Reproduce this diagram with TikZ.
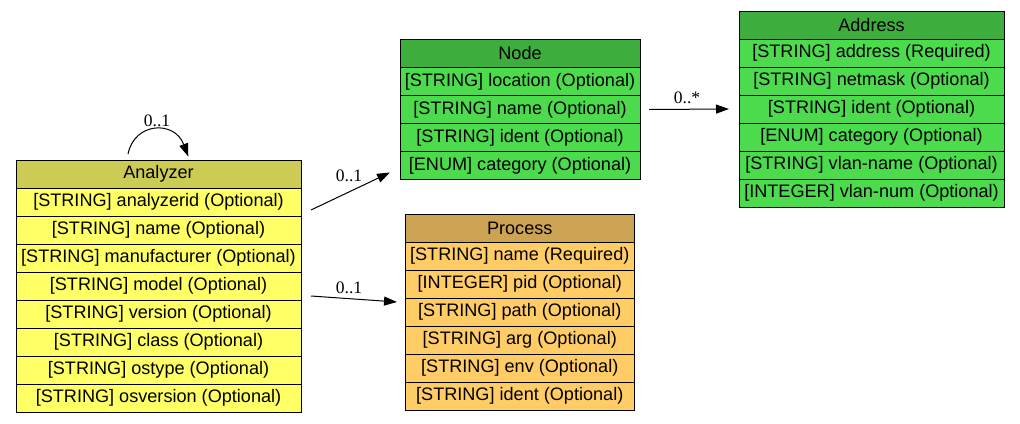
\documentclass[tikz,border=0pt]{standalone}
\usepackage{fontspec}
\setmainfont{Liberation Sans}
\newfontfamily\lblfont{Liberation Serif}
\usetikzlibrary{arrows.meta,calc}
\definecolor{anH}{HTML}{CCCC55}
\definecolor{anR}{HTML}{FFFF66}
\definecolor{gnH}{HTML}{3DAE3D}
\definecolor{gnR}{HTML}{4CDB4C}
\definecolor{prH}{HTML}{CCA352}
\definecolor{prR}{HTML}{FFCC66}
\tikzset{
 cell/.style={draw=black, line width=1pt, minimum height=28pt, inner sep=0pt, outer sep=0pt, anchor=north west, font=\fontsize{18.1}{20}\selectfont, text=black},
 arr/.style={-{Triangle[length=13pt,width=9pt]}, line width=1pt},
 lbl/.style={font=\lblfont\fontsize{17.5}{20}\selectfont, inner sep=0pt}
}
\begin{document}
\begin{tikzpicture}[x=1pt,y=-1pt]
\useasboundingbox (0,0) rectangle (1020,423);
% Analyzer
\begin{scope}[every node/.append style={minimum width=285pt}]
\node[cell, fill=anH] (an0) at (16,160) {Analyzer};
\node[cell, fill=anR] (an1) at (an0.south west) {[STRING] analyzerid (Optional)};
\node[cell, fill=anR] (an2) at (an1.south west) {[STRING] name (Optional)};
\node[cell, fill=anR] (an3) at (an2.south west) {[STRING] manufacturer (Optional)};
\node[cell, fill=anR] (an4) at (an3.south west) {[STRING] model (Optional)};
\node[cell, fill=anR] (an5) at (an4.south west) {[STRING] version (Optional)};
\node[cell, fill=anR] (an6) at (an5.south west) {[STRING] class (Optional)};
\node[cell, fill=anR] (an7) at (an6.south west) {[STRING] ostype (Optional)};
\node[cell, fill=anR] (an8) at (an7.south west) {[STRING] osversion (Optional)};
\end{scope}
% Node
\begin{scope}[every node/.append style={minimum width=240pt}]
\node[cell, fill=gnH] (nd0) at (400,39.5) {Node};
\node[cell, fill=gnR] (nd1) at (nd0.south west) {[STRING] location (Optional)};
\node[cell, fill=gnR] (nd2) at (nd1.south west) {[STRING] name (Optional)};
\node[cell, fill=gnR] (nd3) at (nd2.south west) {[STRING] ident (Optional)};
\node[cell, fill=gnR] (nd4) at (nd3.south west) {[ENUM] category (Optional)};
\end{scope}
% Address
\begin{scope}[every node/.append style={minimum width=265pt}]
\node[cell, fill=gnH] (ad0) at (739,11) {Address};
\node[cell, fill=gnR] (ad1) at (ad0.south west) {[STRING] address (Required)};
\node[cell, fill=gnR] (ad2) at (ad1.south west) {[STRING] netmask (Optional)};
\node[cell, fill=gnR] (ad3) at (ad2.south west) {[STRING] ident (Optional)};
\node[cell, fill=gnR] (ad4) at (ad3.south west) {[ENUM] category (Optional)};
\node[cell, fill=gnR] (ad5) at (ad4.south west) {[STRING] vlan-name (Optional)};
\node[cell, fill=gnR] (ad6) at (ad5.south west) {[INTEGER] vlan-num (Optional)};
\end{scope}
% Process
\begin{scope}[every node/.append style={minimum width=228.5pt}]
\node[cell, fill=prH] (pr0) at (405.5,214) {Process};
\node[cell, fill=prR] (pr1) at (pr0.south west) {[STRING] name (Required)};
\node[cell, fill=prR] (pr2) at (pr1.south west) {[INTEGER] pid (Optional)};
\node[cell, fill=prR] (pr3) at (pr2.south west) {[STRING] path (Optional)};
\node[cell, fill=prR] (pr4) at (pr3.south west) {[STRING] arg (Optional)};
\node[cell, fill=prR] (pr5) at (pr4.south west) {[STRING] env (Optional)};
\node[cell, fill=prR] (pr6) at (pr5.south west) {[STRING] ident (Optional)};
\end{scope}
% edges
\draw[arr] ($(an0.north)+(-30.5,-6)$) .. controls ($(an0.north)+(-24,-38)$) and ($(an0.north)+(16,-40)$) .. ($(an0.north)+(29.8,-3.5)$);
\node[lbl] (l0) at (157,121) {0..1};
\draw[arr] ($(an1.south east)+(10,-6)$) -- ($(nd4.west)+(-10,7)$);
\node[lbl] (l1) at (349,176) {0..1};
\draw[arr] ($(an4.south east)+(10,-4)$) -- ($(pr3.north west)+(-8.5,4)$);
\node[lbl] (l2) at (349,288) {0..1};
\draw[arr] ($(nd2.east)+(9,0)$) -- ($(ad3.west)+(-10,0)$);
\node[lbl] (l3) at (687,98) {0..*};
\end{tikzpicture}
\end{document}
